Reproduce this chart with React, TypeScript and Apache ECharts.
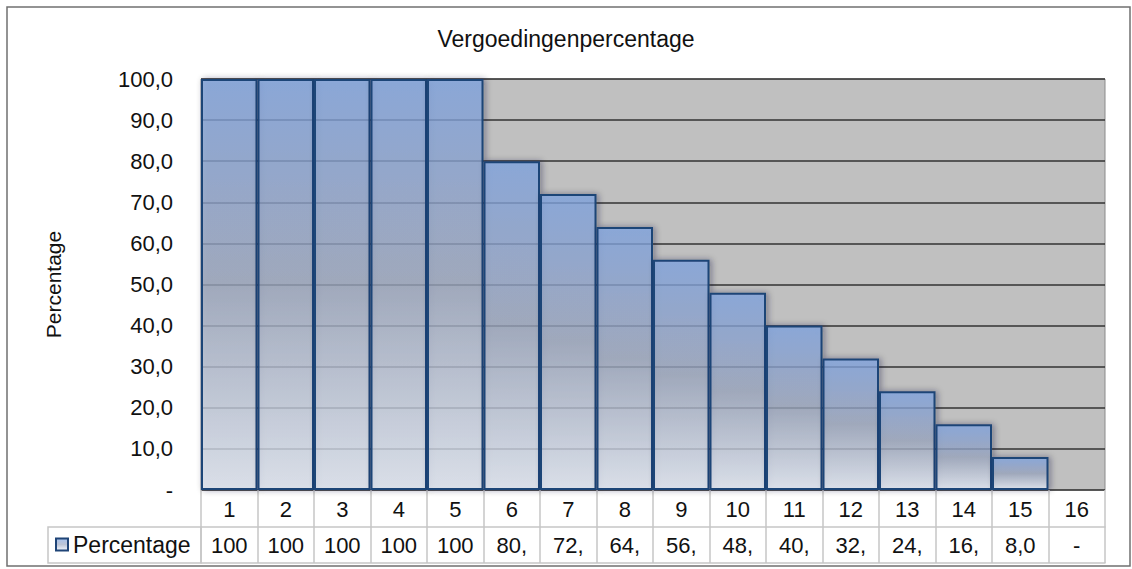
import React, { useEffect, useRef } from "react";
import * as echarts from "echarts";

const titleText = "Vergoedingenpercentage";
const seriesName = "Percentage";
const yAxisName = "Percentage";
const categories = ["1", "2", "3", "4", "5", "6", "7", "8", "9", "10", "11", "12", "13", "14", "15", "16"];
const percentages = [100, 100, 100, 100, 100, 80, 72, 64, 56, 48, 40, 32, 24, 16, 8, 0];
const tableLabels = ["100", "100", "100", "100", "100", "80,", "72,", "64,", "56,", "48,", "40,", "32,", "24,", "16,", "8,0", "-"];

const FONT = "'Liberation Sans', Arial, sans-serif";

export default function App() {
  const ref = useRef<HTMLDivElement>(null);
  useEffect(() => {
    if (!ref.current) return;
    const chart = echarts.init(ref.current, undefined, { renderer: "svg" });
    const barFill = new echarts.graphic.LinearGradient(0, 0, 0, 1, [
      { offset: 0, color: "rgba(131,169,232,0.7)" },
      { offset: 0.5, color: "rgba(159,171,196,0.7)" },
      { offset: 1, color: "rgba(236,243,255,0.7)" },
    ]);
    const tableLine = { color: "#c6c6c6", width: 1.5 };
    chart.setOption({
      animation: false,
      textStyle: { fontFamily: FONT },
      title: {
        text: titleText,
        left: "center",
        top: 22,
        textStyle: { fontFamily: FONT, fontSize: 23, fontWeight: "normal", color: "#111" },
      },
      legend: {
        show: true,
        left: 50,
        top: 528,
        icon: "rect",
        itemWidth: 12,
        itemHeight: 12,
        itemGap: 5,
        textStyle: { fontFamily: FONT, fontSize: 23, color: "#111" },
        data: [seriesName],
      },
      grid: {
        left: 201,
        right: 27,
        top: 79,
        bottom: 79,
        show: true,
        backgroundColor: "#c0c0c0",
        borderColor: "#8a8a8a",
        borderWidth: 1,
      },
      xAxis: [
        {
          type: "category",
          data: categories,
          boundaryGap: true,
          position: "bottom",
          axisLine: { show: false },
          axisTick: { show: true, interval: 0, length: 37, lineStyle: tableLine },
          axisLabel: { interval: 0, margin: 8, fontSize: 22, color: "#111", fontFamily: FONT },
        },
        {
          type: "category",
          data: tableLabels,
          boundaryGap: true,
          position: "bottom",
          offset: 37,
          axisLine: { show: true, lineStyle: tableLine },
          axisTick: { show: true, interval: 0, length: 36, lineStyle: tableLine },
          axisLabel: { interval: 0, margin: 7, fontSize: 22, color: "#111", fontFamily: FONT },
        },
        {
          type: "category",
          data: categories,
          boundaryGap: true,
          position: "bottom",
          offset: 73,
          axisLine: { show: true, lineStyle: tableLine },
          axisTick: { show: false },
          axisLabel: { show: false },
        },
      ],
      yAxis: {
        type: "value",
        min: 0,
        max: 100,
        interval: 10,
        name: yAxisName,
        nameLocation: "middle",
        nameGap: 137,
        nameRotate: 90,
        nameTextStyle: { fontFamily: FONT, fontSize: 21, color: "#111" },
        axisLine: { show: false },
        axisTick: { show: false },
        axisLabel: {
          margin: 28,
          fontSize: 22,
          color: "#111",
          fontFamily: FONT,
          formatter: (v: number) => (v === 0 ? "-" : v.toFixed(1).replace(".", ",")),
        },
        splitLine: { show: true, lineStyle: { color: "#333333", width: 1.5 } },
      },
      series: [
        {
          name: seriesName,
          type: "bar",
          xAxisIndex: 0,
          data: percentages,
          barCategoryGap: "0%",
          itemStyle: {
            color: barFill,
            borderColor: "#1f4477",
            borderWidth: 2,
            shadowColor: "rgba(20,30,50,0.45)",
            shadowBlur: 6,
            shadowOffsetX: 2,
          },
        },
      ],
      graphic: [
        {
          type: "rect",
          shape: { x: 48, y: 527, width: 153, height: 36 },
          style: { fill: "none", stroke: "#c6c6c6", lineWidth: 1.5 },
          silent: true,
        },
        {
          type: "rect",
          shape: { x: 7, y: 7, width: 1123, height: 559 },
          style: { fill: "none", stroke: "#707070", lineWidth: 1.5 },
          silent: true,
        },
      ],
    });
    return () => chart.dispose();
  }, []);
  return (
    <div
      ref={ref}
      style={{ position: "absolute", left: 0, top: 0, width: 1132, height: 569, background: "#fff" }}
    />
  );
}
